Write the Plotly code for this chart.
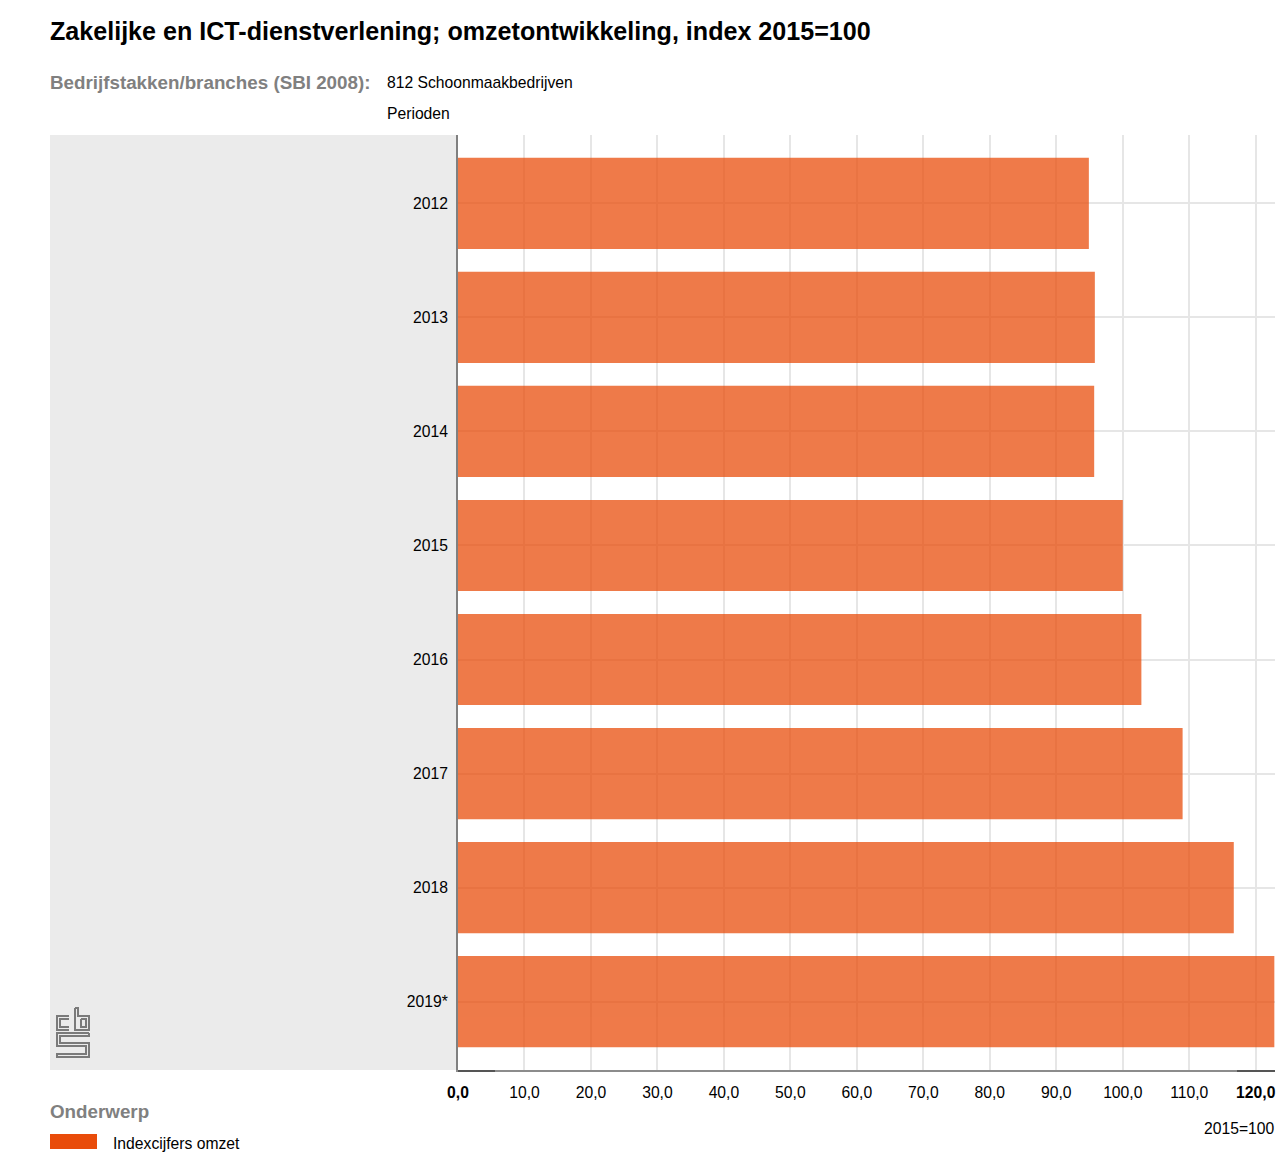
import plotly.graph_objects as go

# ---- data ----
periods = ["2012", "2013", "2014", "2015", "2016", "2017", "2018", "2019*"]
index_omzet = [94.9, 95.8, 95.7, 100.0, 102.8, 109.0, 116.7, 122.8]
x_tick_vals = [0, 10, 20, 30, 40, 50, 60, 70, 80, 90, 100, 110, 120]
x_tick_text = ["<b>0,0</b>", "10,0", "20,0", "30,0", "40,0", "50,0", "60,0",
               "70,0", "80,0", "90,0", "100,0", "110,0", "<b>120,0</b>"]

W, H = 1280, 1154
# plot area in screen pixels
L, R, T, B = 458, 1275, 135, 1070


def px(x):
    return (x - L) / (R - L)


def py(y):
    return (B - y) / (B - T)


FONT = "Liberation Sans, Arial, sans-serif"

fig = go.Figure()
fig.add_trace(go.Bar(
    y=periods, x=index_omzet, orientation="h",
    marker=dict(color="#E94C0A", line=dict(width=0)), opacity=0.74,
    width=0.8, name="Indexcijfers omzet", showlegend=False,
    hovertemplate="%{y}: %{x:.1f}<extra></extra>",
))

shapes = [
    dict(type="rect", xref="paper", yref="paper", x0=px(50), x1=px(458), y0=py(1070), y1=py(135),
         fillcolor="#ebebeb", line=dict(width=0), layer="below"),
    dict(type="rect", xref="paper", yref="paper", x0=px(50), x1=px(97), y0=py(1149), y1=py(1134),
         fillcolor="#E94C0A", line=dict(width=0)),
    # darker end segments of the bottom axis line
    dict(type="line", xref="paper", yref="paper", x0=px(458), x1=px(495), y0=py(1071), y1=py(1071),
         line=dict(color="#555555", width=2)),
    dict(type="line", xref="paper", yref="paper", x0=px(1237), x1=px(1275), y0=py(1071), y1=py(1071),
         line=dict(color="#555555", width=2)),
]

logo_col = "#7a7a7a"


def path(points):
    return "M " + " L ".join(f"{px(a)},{py(b)}" for a, b in points)


logo_paths = [
    [(69, 1016), (57, 1016), (57, 1030), (69, 1030)],
    [(69, 1019), (60, 1019), (60, 1027), (69, 1027)],
    [(75, 1008), (78, 1008), (78, 1016), (89, 1016), (89, 1030), (75, 1030), (75, 1008)],
    [(81, 1019), (86, 1019), (86, 1027), (81, 1027), (81, 1019)],
    [(89, 1033), (57, 1033), (57, 1046), (86, 1046), (86, 1054), (57, 1054), (57, 1057), (89, 1057),
     (89, 1043), (60, 1043), (60, 1036), (89, 1036), (89, 1033)],
]
for p in logo_paths:
    shapes.append(dict(type="path", xref="paper", yref="paper", path=path(p),
                       line=dict(color=logo_col, width=2)))


def ann(text, x, y, size, color="#000000", xanchor="left"):
    return dict(text=text, x=px(x), y=py(y), xref="paper", yref="paper",
                xanchor=xanchor, yanchor="middle", showarrow=False,
                font=dict(size=size, color=color, family=FONT))


annotations = [
    ann("<b>Zakelijke en ICT-dienstverlening; omzetontwikkeling, index 2015=100</b>", 48, 31, 25.1),
    ann("<b>Bedrijfstakken/branches (SBI 2008):</b>", 48, 82, 18.8, "#808080"),
    ann("812 Schoonmaakbedrijven", 385, 82, 15.7),
    ann("Perioden", 385, 113, 15.7),
    ann("2015=100", 1277, 1128, 15.7, xanchor="right"),
    ann("<b>Onderwerp</b>", 48, 1111, 18.8, "#808080"),
    ann("Indexcijfers omzet", 111, 1143, 15.7),
]

fig.update_layout(
    width=W, height=H,
    margin=dict(l=L, r=W - R, t=T, b=H - B, pad=0),
    paper_bgcolor="#ffffff", plot_bgcolor="rgba(0,0,0,0)",
    font=dict(family=FONT, size=15.7, color="#000000"),
    shapes=shapes, annotations=annotations,
    showlegend=False, bargap=0.2,
)
fig.update_xaxes(
    range=[0, 122.9], tickvals=x_tick_vals, ticktext=x_tick_text,
    showgrid=True, gridcolor="#e6e6e6", gridwidth=2,
    showline=True, linecolor="#8c8c8c", linewidth=2,
    ticks="outside", ticklen=0, ticklabelstandoff=7, zeroline=False,
    tickfont=dict(size=15.7, color="#000000", family=FONT),
)
fig.update_yaxes(
    type="category", categoryorder="array", categoryarray=periods,
    range=[7.6, -0.6],
    showgrid=True, gridcolor="#e6e6e6", gridwidth=2,
    showline=True, linecolor="#808080", linewidth=2,
    ticks="outside", ticklen=0, ticklabelstandoff=5,
    tickfont=dict(size=15.7, color="#000000", family=FONT),
)

fig.write_html(
    "out.html",
    config={"displayModeBar": False},
    post_script="document.body.style.margin='0';document.body.style.overflow='hidden';"
                "document.documentElement.style.overflow='hidden';",
)
